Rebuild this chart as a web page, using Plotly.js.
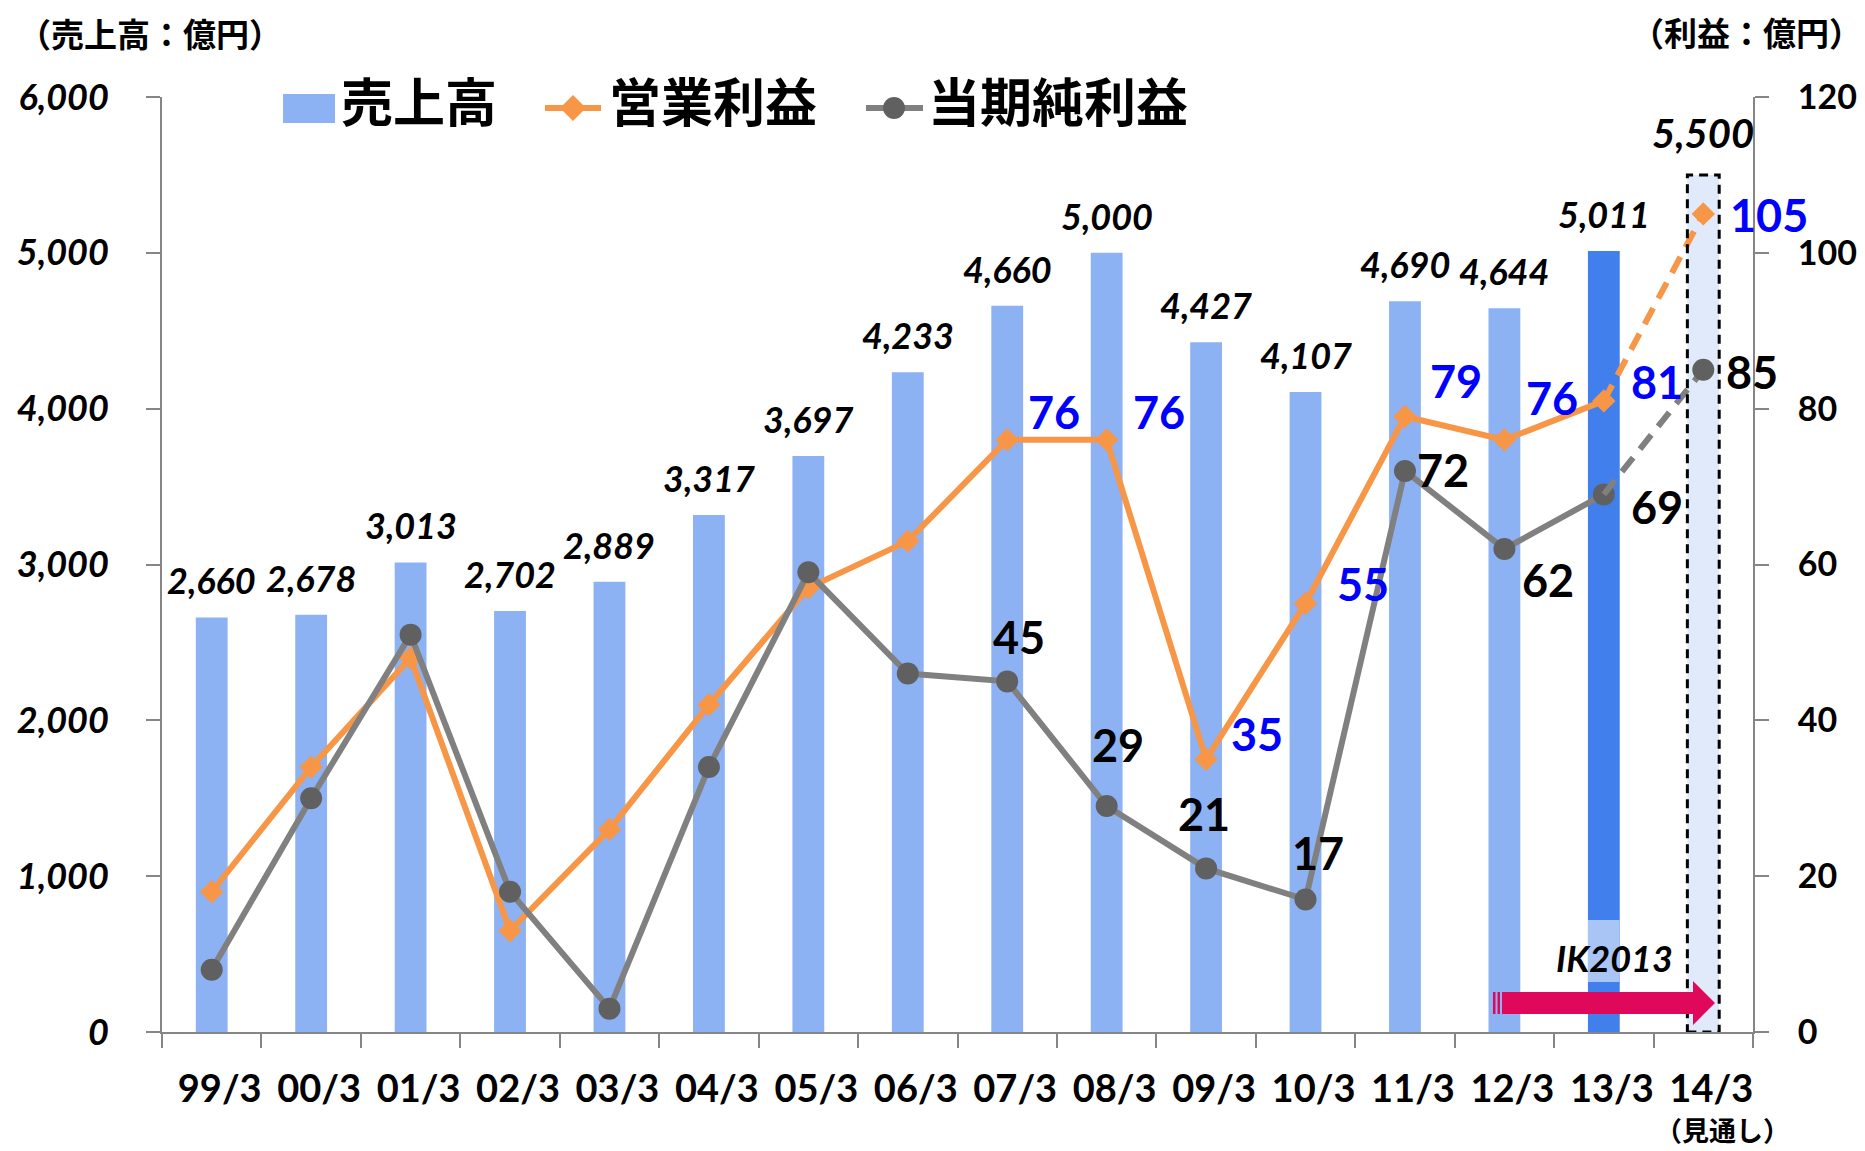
<!DOCTYPE html>
<html>
<head>
<meta charset="utf-8">
<script src="https://cdn.plot.ly/plotly-3.0.1.min.js"></script>
<style>html,body{margin:0;padding:0;background:#ffffff;}</style>
</head>
<body>
<div id="chart" style="width:1865px;height:1151px;"></div>
<script>
// ---------------- data ----------------
const categories = ['99/3','00/3','01/3','02/3','03/3','04/3','05/3','06/3','07/3','08/3','09/3','10/3','11/3','12/3','13/3','14/3'];
const sales = [2660,2678,3013,2702,2889,3317,3697,4233,4660,5000,4427,4107,4690,4644,5011,5500];
const operatingProfit = [18,34,48,13,26,42,57,63,76,76,35,55,79,76,81,105];
const netProfit = [8,30,51,18,3,34,59,46,45,29,21,17,72,62,69,85];
const seriesNames = ['売上高','営業利益','当期純利益'];
const salesUnitText = '（売上高：億円）';
const profitUnitText = '（利益：億円）';
const forecastNote = '（見通し）';
const planLabel = 'IK2013';
const firstProfitLabelIndex = 8;

// ---------------- styles ----------------
const W = 1865, H = 1151;
const X0 = 162, X1 = 1753, Y0 = 97, Y1 = 1032;
const FONT = "Lato, 'Noto Sans CJK JP', sans-serif";
const CJK = "'Noto Sans CJK JP', sans-serif";
const barLight = '#8CB2F4', barCurrent = '#4180EC', barForecast = '#E1EAFB';
const orange = '#F79646', grayLine = '#808080', grayMarker = '#606060';
const axisGray = '#868686';
const pinkArrow = '#E0085B';
const barWidth = 0.32;

// label offsets (pixels) for the profit labels, from index 8 on
const opOffsets = [[47,-28],[52,-28],[51,-25],[57,-19],[51,-35],[48,-42],[53,-19],[66,1]];
const npOffsets = [[12,-44],[11,-61],[-2,-54],[12,-47],[38,-1],[44,31],[53,13],[49,2]];

const last = categories.length - 1;
const current = last - 1;

function px(x){ return (x - X0) / (X1 - X0); }
function py(y){ return (Y1 - y) / (Y1 - Y0); }

const barColors = categories.map((c,i) => i === last ? barForecast : (i === current ? barCurrent : barLight));

const traces = [
  {
    type: 'bar', x: categories, y: sales, width: barWidth,
    marker: {color: barColors, line: {width: 0}},
    yaxis: 'y', showlegend: false, hoverinfo: 'x+y'
  },
  {
    type: 'scatter', mode: 'lines+markers',
    x: categories.slice(0, last), y: operatingProfit.slice(0, last),
    line: {color: orange, width: 6},
    marker: {symbol: 'diamond', size: 18, color: orange},
    yaxis: 'y2', showlegend: false
  },
  {
    type: 'scatter', mode: 'lines',
    x: categories.slice(current), y: operatingProfit.slice(current),
    line: {color: orange, width: 6, dash: '18px,11px'},
    yaxis: 'y2', showlegend: false
  },
  {
    type: 'scatter', mode: 'markers',
    x: categories.slice(last), y: operatingProfit.slice(last),
    marker: {symbol: 'diamond', size: 18, color: orange, opacity: 1},
    yaxis: 'y2', showlegend: false
  },
  {
    type: 'scatter', mode: 'lines+markers',
    x: categories.slice(0, last), y: netProfit.slice(0, last),
    line: {color: grayLine, width: 6},
    marker: {symbol: 'circle', size: 22, color: grayMarker},
    yaxis: 'y2', showlegend: false
  },
  {
    type: 'scatter', mode: 'lines',
    x: categories.slice(current), y: netProfit.slice(current),
    line: {color: grayLine, width: 6, dash: '18px,11px'},
    yaxis: 'y2', showlegend: false
  },
  {
    type: 'scatter', mode: 'markers',
    x: categories.slice(last), y: netProfit.slice(last),
    marker: {symbol: 'circle', size: 22, color: grayMarker, opacity: 1},
    yaxis: 'y2', showlegend: false
  }
];

const annotations = [];
// sales labels
sales.forEach((v, i) => {
  annotations.push({
    x: categories[i], y: v, xref: 'x', yref: 'y',
    text: v.toLocaleString('en-US'), showarrow: false,
    yanchor: 'bottom', xanchor: 'center', yshift: i === last ? 16 : 13,
    font: {family: FONT, size: i === last ? 40 : 36, color: '#000', weight: 'bold', style: 'italic'}
  });
});
// profit labels
for (let i = firstProfitLabelIndex; i <= last; i++) {
  const k = i - firstProfitLabelIndex;
  annotations.push({
    x: categories[i], y: operatingProfit[i], xref: 'x', yref: 'y2',
    text: String(operatingProfit[i]), showarrow: false,
    xanchor: 'center', yanchor: 'middle',
    xshift: opOffsets[k][0], yshift: -opOffsets[k][1],
    font: {family: FONT, size: 45, color: '#0000FF', weight: 'bold'}
  });
  annotations.push({
    x: categories[i], y: netProfit[i], xref: 'x', yref: 'y2',
    text: String(netProfit[i]), showarrow: false,
    xanchor: 'center', yanchor: 'middle',
    xshift: npOffsets[k][0], yshift: -npOffsets[k][1],
    font: {family: FONT, size: 45, color: '#000000', weight: 'bold'}
  });
}
// unit labels
annotations.push({xref:'paper', yref:'paper', x: px(16), y: py(33), xanchor:'left', yanchor:'middle',
  text: salesUnitText, showarrow:false, font:{family: CJK, size: 33, color:'#000', weight:'bold'}});
annotations.push({xref:'paper', yref:'paper', x: px(1864), y: py(32), xanchor:'right', yanchor:'middle',
  text: profitUnitText, showarrow:false, font:{family: CJK, size: 33, color:'#000', weight:'bold'}});
annotations.push({xref:'paper', yref:'paper', x: px(1722), y: py(1129), xanchor:'center', yanchor:'middle',
  text: forecastNote, showarrow:false, font:{family: CJK, size: 27, color:'#000', weight:'bold'}});
annotations.push({xref:'paper', yref:'paper', x: px(1614), y: py(958), xanchor:'center', yanchor:'middle',
  text: planLabel, showarrow:false, font:{family: FONT, size: 36, color:'#000', weight:'bold', style:'italic'}});
// legend texts
const legendTextX = [339, 607, 926];
seriesNames.forEach((n, i) => {
  annotations.push({xref:'paper', yref:'paper', x: px(legendTextX[i]), y: py(100), xanchor:'left', yanchor:'middle',
    text: n, showarrow:false, font:{family: CJK, size: 52, color:'#000', weight:'bold'}});
});

function P(x, y){ return px(x).toFixed(5) + ',' + py(y).toFixed(5); }

const shapes = [
  // forecast dashed outline
  {type:'rect', xref:'x', yref:'y', x0: last - barWidth/2, x1: last + barWidth/2, y0: 0, y1: sales[last],
   line:{color:'#000', width:3, dash:'9px,6px'}, fillcolor:'rgba(0,0,0,0)', layer:'above'},
  // patterned band on the current bar
  {type:'rect', xref:'x', yref:'paper', x0: current - barWidth/2, x1: current + barWidth/2, y0: py(982), y1: py(920),
   line:{width:0}, fillcolor:'#A9C5F6', layer:'above'},
  // IK2013 arrow
  {type:'path', xref:'paper', yref:'paper',
   path: 'M' + P(1502,992) + ' L' + P(1693,992) + ' L' + P(1693,981) + ' L' + P(1715,1003) + ' L' + P(1693,1025) + ' L' + P(1693,1014) + ' L' + P(1502,1014) + ' Z',
   fillcolor: pinkArrow, line:{width:0}, layer:'above'},
  {type:'rect', xref:'paper', yref:'paper', x0: px(1493), x1: px(1495.5), y0: py(1014), y1: py(992), fillcolor: pinkArrow, line:{width:0}, layer:'above'},
  {type:'rect', xref:'paper', yref:'paper', x0: px(1497.5), x1: px(1500), y0: py(1014), y1: py(992), fillcolor: pinkArrow, line:{width:0}, layer:'above'},
  // legend symbols
  {type:'rect', xref:'paper', yref:'paper', x0: px(283), x1: px(335), y0: py(123), y1: py(94), fillcolor: barLight, line:{width:0}},
  {type:'line', xref:'paper', yref:'paper', x0: px(545), x1: px(601), y0: py(108), y1: py(108), line:{color: orange, width:6}},
  {type:'path', xref:'paper', yref:'paper', path: 'M' + P(573,95) + ' L' + P(586,108) + ' L' + P(573,121) + ' L' + P(560,108) + ' Z', fillcolor: orange, line:{width:0}},
  {type:'line', xref:'paper', yref:'paper', x0: px(866), x1: px(923), y0: py(108), y1: py(108), line:{color: grayLine, width:6}},
  {type:'circle', xref:'paper', yref:'paper', x0: px(883), x1: px(905), y0: py(119), y1: py(97), fillcolor: grayMarker, line:{width:0}}
];

const layout = {
  width: W, height: H,
  margin: {l: X0, r: W - X1, t: Y0, b: H - Y1, pad: 0},
  paper_bgcolor: '#ffffff', plot_bgcolor: '#ffffff',
  font: {family: FONT, color: '#000'},
  showlegend: false,
  xaxis: {
    type: 'category', categoryorder: 'array', categoryarray: categories,
    range: [-0.5, last + 0.5],
    showline: true, linecolor: axisGray, linewidth: 2,
    ticks: 'outside', tickson: 'boundaries', ticklen: 14, tickwidth: 2, tickcolor: axisGray,
    showgrid: false, zeroline: false,
    tickfont: {family: FONT, size: 38, color: '#000', weight: 'bold'},
    ticklabelstandoff: 22, ticklabelshift: 8
  },
  yaxis: {
    range: [0, 6000], dtick: 1000, tickformat: ',d',
    showline: true, linecolor: axisGray, linewidth: 2,
    ticks: 'outside', ticklen: 14, tickwidth: 2, tickcolor: axisGray,
    showgrid: false, zeroline: false,
    tickfont: {family: FONT, size: 36, color: '#000', weight: 'bold', style: 'italic'},
    ticklabelstandoff: 30
  },
  yaxis2: {
    overlaying: 'y', side: 'right', range: [0, 120], dtick: 20,
    showline: true, linecolor: axisGray, linewidth: 2,
    ticks: 'outside', ticklen: 14, tickwidth: 2, tickcolor: axisGray,
    showgrid: false, zeroline: false,
    tickfont: {family: FONT, size: 34, color: '#000', weight: 'bold'},
    ticklabelstandoff: 22
  },
  annotations: annotations,
  shapes: shapes
};

Plotly.newPlot('chart', traces, layout, {displayModeBar: false, staticPlot: true});
</script>
</body>
</html>
